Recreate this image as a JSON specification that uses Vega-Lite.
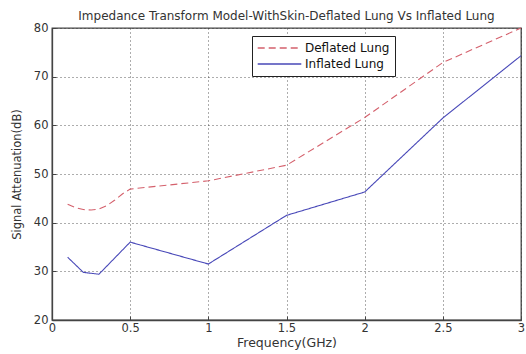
{
  "$schema": "https://vega.github.io/schema/vega-lite/v6.json",
  "width": 469,
  "height": 292,
  "autosize": {"type": "none"},
  "padding": {"left": 52, "top": 28, "right": 5, "bottom": 34},
  "background": "white",
  "title": {
    "text": "Impedance Transform Model-WithSkin-Deflated Lung Vs Inflated Lung",
    "font": "DejaVu Sans",
    "fontSize": 12,
    "fontWeight": "normal",
    "color": "#333",
    "offset": -1,
    "anchor": "middle"
  },
  "config": {
    "view": {"stroke": "#444", "strokeWidth": 1.3},
    "axis": {
      "labelFont": "DejaVu Sans",
      "titleFont": "DejaVu Sans",
      "labelFontSize": 11.5,
      "titleFontWeight": "normal",
      "labelColor": "#333",
      "titleColor": "#333",
      "domainColor": "#444",
      "domainWidth": 1.3,
      "tickColor": "#444",
      "gridColor": "#333",
      "gridDash": [1, 3],
      "gridOpacity": 0.8
    }
  },
  "data": {
    "values": [
      {"f": 0.1, "v": 43.8, "s": "Deflated Lung"},
      {"f": 0.15, "v": 43.1, "s": "Deflated Lung"},
      {"f": 0.2, "v": 42.7, "s": "Deflated Lung"},
      {"f": 0.25, "v": 42.6, "s": "Deflated Lung"},
      {"f": 0.3, "v": 42.8, "s": "Deflated Lung"},
      {"f": 0.35, "v": 43.5, "s": "Deflated Lung"},
      {"f": 0.4, "v": 44.6, "s": "Deflated Lung"},
      {"f": 0.45, "v": 45.9, "s": "Deflated Lung"},
      {"f": 0.5, "v": 46.9, "s": "Deflated Lung"},
      {"f": 1.0, "v": 48.6, "s": "Deflated Lung"},
      {"f": 1.5, "v": 51.8, "s": "Deflated Lung"},
      {"f": 2.0, "v": 61.6, "s": "Deflated Lung"},
      {"f": 2.5, "v": 72.9, "s": "Deflated Lung"},
      {"f": 3.0, "v": 80.0, "s": "Deflated Lung"},
      {"f": 0.1, "v": 32.9, "s": "Inflated Lung"},
      {"f": 0.2, "v": 29.8, "s": "Inflated Lung"},
      {"f": 0.3, "v": 29.4, "s": "Inflated Lung"},
      {"f": 0.5, "v": 36.0, "s": "Inflated Lung"},
      {"f": 1.0, "v": 31.5, "s": "Inflated Lung"},
      {"f": 1.5, "v": 41.5, "s": "Inflated Lung"},
      {"f": 2.0, "v": 46.3, "s": "Inflated Lung"},
      {"f": 2.5, "v": 61.5, "s": "Inflated Lung"},
      {"f": 3.0, "v": 74.3, "s": "Inflated Lung"}
    ]
  },
  "mark": {"type": "line", "strokeWidth": 1.1},
  "encoding": {
    "x": {
      "field": "f", "type": "quantitative",
      "scale": {"domain": [0, 3], "nice": false},
      "axis": {"values": [0, 0.5, 1, 1.5, 2, 2.5, 3], "format": "~g", "title": "Frequency(GHz)", "titleFontSize": 12.5, "tickSize": -4, "labelPadding": 6, "titlePadding": 3, "labelFlush": false}
    },
    "y": {
      "field": "v", "type": "quantitative",
      "scale": {"domain": [20, 80], "nice": false},
      "axis": {"values": [20, 30, 40, 50, 60, 70, 80], "title": "Signal Attenuation(dB)", "titleFontSize": 11.5, "tickSize": -4, "labelPadding": 8, "titlePadding": 11, "labelFlush": false}
    },
    "color": {
      "field": "s", "type": "nominal",
      "scale": {"domain": ["Deflated Lung", "Inflated Lung"], "range": ["#d4606c", "#4848b8"]},
      "legend": {
        "title": null,
        "orient": "none",
        "legendX": 200,
        "legendY": 8,
        "direction": "vertical",
        "symbolType": "stroke",
        "symbolSize": 1900,
        "symbolStrokeWidth": 1.4,
        "clipHeight": 14,
        "labelFont": "DejaVu Sans",
        "labelFontSize": 12,
        "labelColor": "#111",
        "labelOffset": 3,
        "rowPadding": 2,
        "padding": 5,
        "offset": 0,
        "strokeColor": "#222",
        "fillColor": "white"
      }
    },
    "strokeDash": {
      "field": "s", "type": "nominal",
      "scale": {"domain": ["Deflated Lung", "Inflated Lung"], "range": [[7, 4], [1, 0]]}
    }
  }
}
